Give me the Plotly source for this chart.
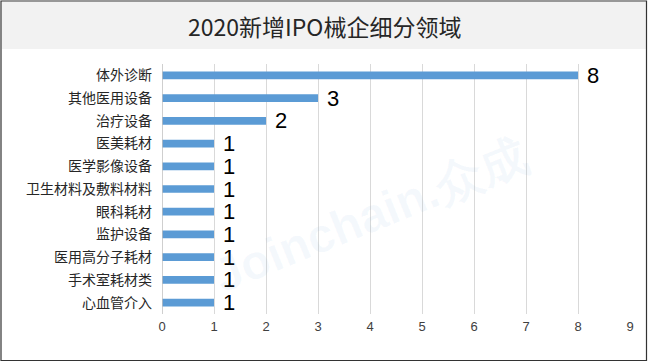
import plotly.graph_objects as go

categories = ["体外诊断", "其他医用设备", "治疗设备", "医美耗材", "医学影像设备",
              "卫生材料及敷料材料", "眼科耗材", "监护设备", "医用高分子耗材",
              "手术室耗材类", "心血管介入"]
values = [8, 3, 2, 1, 1, 1, 1, 1, 1, 1, 1]
x_ticks = [0, 1, 2, 3, 4, 5, 6, 7, 8, 9]
title_text = "2020新增IPO械企细分领域"

W, H = 648, 362
ml, mr, mt, mb = 162, 18, 64, 48
pw, ph = W - ml - mr, H - mt - mb

def px_x(p):
    return (p - ml) / pw

def px_y(p):
    return (H - mb - p) / ph

font_cjk = "Noto Sans CJK SC, sans-serif"

fig = go.Figure(go.Bar(
    x=values, y=categories, orientation="h",
    marker=dict(color="#5B9BD5", line=dict(width=0)),
    text=[" " + str(v) for v in values], textposition="outside", constraintext="none",
    textfont=dict(size=22, color="#000000", family="Liberation Sans, Arial"),
    cliponaxis=False, width=0.34, hoverinfo="skip",
))

fig.update_layout(
    width=W, height=H, margin=dict(l=ml, r=mr, t=mt, b=mb, autoexpand=False),
    paper_bgcolor="white", plot_bgcolor="white", showlegend=False,
    font=dict(family=font_cjk, color="#404040"),
    xaxis=dict(range=[0, 9], tickvals=x_ticks, showgrid=True, gridcolor="#D9D9D9",
               gridwidth=1, zeroline=False, showline=False, ticks="", automargin=False,
               ticklabelstandoff=3,
               tickfont=dict(size=13, color="#404040", family="Liberation Sans, Arial")),
    yaxis=dict(categoryorder="array", categoryarray=categories[::-1], automargin=False,
               range=[-0.5, len(categories) - 0.5], showgrid=False, ticks="",
               showline=False, tickfont=dict(size=14, color="#262626", family=font_cjk),
               ticklabelstandoff=9),
    shapes=[
        dict(type="rect", xref="paper", yref="paper", x0=px_x(2), x1=px_x(646),
             y0=px_y(49), y1=px_y(2), fillcolor="#F2F2F2", line=dict(width=0), layer="below"),
        dict(type="line", xref="x", yref="paper", x0=0, x1=0, y0=0, y1=1,
             line=dict(color="#BFBFBF", width=1.5)),
        dict(type="rect", xref="paper", yref="paper", x0=px_x(1), x1=px_x(646.5),
             y0=px_y(360.5), y1=px_y(1), line=dict(color="#333333", width=1.2),
             fillcolor="rgba(0,0,0,0)"),
    ],
    annotations=[
        dict(text=title_text, xref="paper", yref="paper", x=px_x(324), y=px_y(26),
             showarrow=False, xanchor="center", yanchor="middle",
             font=dict(size=23, color="#262626", family=font_cjk)),
        dict(text="<b>Joinchain.众成</b>", xref="paper", yref="paper", x=px_x(370), y=px_y(215),
             showarrow=False, textangle=-22, xanchor="center", yanchor="middle",
             font=dict(size=48, color="rgba(91,155,213,0.06)", family="Liberation Sans, Arial")),
    ],
)

fig.write_html("out.html", config={"displayModeBar": False, "staticPlot": True},
               post_script="document.body.style.margin='0';document.body.style.overflow='hidden';")
